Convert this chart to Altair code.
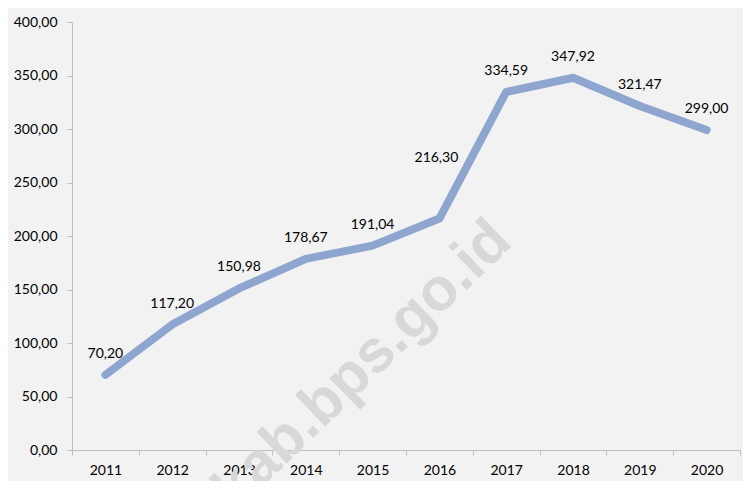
import altair as alt
import pandas as pd

years = ["2011", "2012", "2013", "2014", "2015", "2016", "2017", "2018", "2019", "2020"]
values = [70.20, 117.20, 150.98, 178.67, 191.04, 216.30, 334.59, 347.92, 321.47, 299.00]
labels = ["70,20", "117,20", "150,98", "178,67", "191,04", "216,30", "334,59", "347,92", "321,47", "299,00"]
y_ticks = [0, 50, 100, 150, 200, 250, 300, 350, 400]
watermark = "kab.bps.go.id"
raised_label_year = "2016"

df = pd.DataFrame({"year": years, "value": values, "label": labels})

FONT = "Lato"

x_enc = alt.X(
    "year:O",
    bandPosition=0.5,
    scale=alt.Scale(type="band", paddingInner=0, paddingOuter=0),
    axis=alt.Axis(
        title=None, labelAngle=0, tickBand="extent", domainColor="#BFBFBF",
        tickColor="#BFBFBF", tickSize=5, labelPadding=8, labelFont=FONT,
        labelFontSize=14, labelColor="#000000", grid=False,
    ),
)
y_enc = alt.Y(
    "value:Q",
    scale=alt.Scale(domain=[0, 400], nice=False),
    axis=alt.Axis(
        title=None, values=y_ticks, labelExpr="replace(format(datum.value, '.2f'), '.', ',')",
        domainColor="#BFBFBF", tickColor="#BFBFBF", tickSize=5, labelPadding=10,
        labelFont=FONT, labelFontSize=14, labelColor="#000000", grid=False,
    ),
)

wm = alt.Chart(pd.DataFrame({"t": [watermark]})).mark_text(
    font="Liberation Sans", fontWeight="bold", fontSize=60, color="#D8D8D8",
    angle=316, align="right", baseline="alphabetic",
).encode(text="t:N", x=alt.value(442), y=alt.value(222))

line = alt.Chart(df).mark_line(
    color="#8EA6CF", strokeWidth=8, strokeCap="round", strokeJoin="round"
).encode(x=x_enc, y=y_enc)

base_text = alt.Chart(df).encode(
    x=alt.X("year:O", bandPosition=0.5), y="value:Q", text="label:N"
)
text = base_text.mark_text(
    font=FONT, fontSize=14, color="#000000", dy=-21, align="center", baseline="middle"
).transform_filter(alt.datum.year != raised_label_year)
text_raised = base_text.mark_text(
    font=FONT, fontSize=14, color="#000000", dy=-61, dx=-3, align="center", baseline="middle"
).transform_filter(alt.datum.year == raised_label_year)

chart = alt.layer(wm, line, text, text_raised).properties(
    width=668, height=428,
    autosize=alt.AutoSizeParams(type="none"),
    padding={"left": 64, "top": 14, "right": 3, "bottom": 31},
    background="#F2F2F2",
).configure_view(stroke=None)

chart.save("out.html", embed_options={"renderer": "svg", "actions": False})
